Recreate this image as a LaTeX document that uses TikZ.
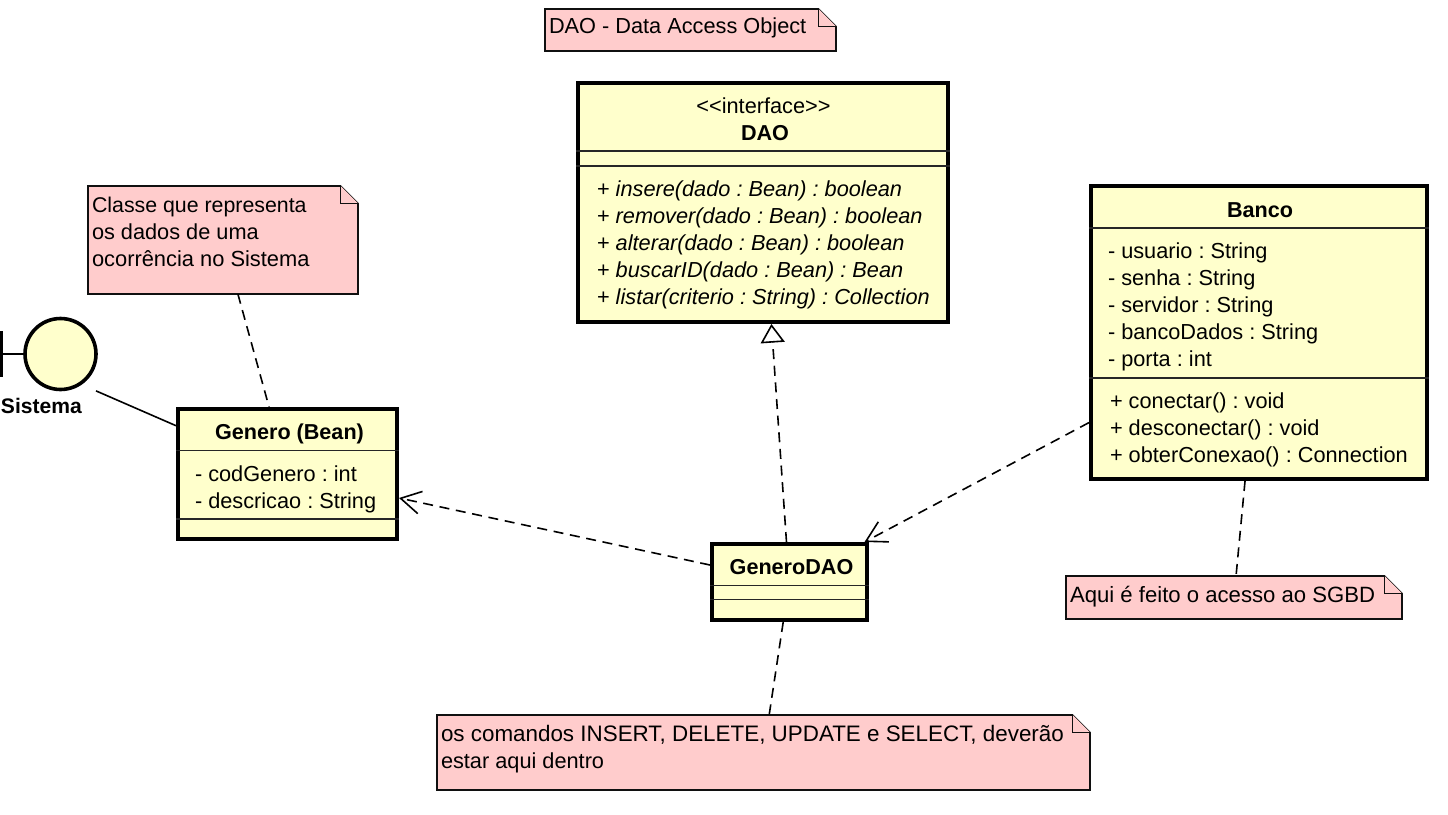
\documentclass[tikz,border=0pt]{standalone}
\usepackage{fontspec}
\setmainfont{Liberation Sans}
\usetikzlibrary{arrows.meta,calc}
\definecolor{classfill}{HTML}{FFFFCC}
\definecolor{notefill}{HTML}{FFCCCC}
\definecolor{noteline}{HTML}{101010}
\newcommand{\classbox}[5]{\node[classnode,minimum width={(#4-#2)*0.75pt},minimum height={(#5-#3)*0.75pt}] (#1) at ({(#2+#4)/2},{(#3+#5)/2}) {};}
\newcommand{\notebox}[5]{%
  \node[notenode,minimum width={(#4-#2)*0.75pt},minimum height={(#5-#3)*0.75pt}] (#1) at ({(#2+#4)/2},{(#3+#5)/2}) {};
  \draw[notepath] (#1.north west) -- ($(#1.north east)+(-17.5,0)$) -- ($(#1.north east)+(0,17.5)$) -- (#1.south east) -- (#1.south west) -- cycle;
  \draw[notepath] ($(#1.north east)+(-17.5,0)$) -- ($(#1.north east)+(-17.5,17.5)$) -- ($(#1.north east)+(0,17.5)$);}
\tikzset{
  x=0.75pt,y=-0.75pt,
  every node/.append style={execute at begin node=\frenchspacing},
  classnode/.style={draw=black,fill=classfill,line width=3pt,inner sep=0pt},
  notenode/.style={inner sep=0pt,outer sep=0pt},
  notepath/.style={draw=noteline,fill=notefill,line width=1.2pt,line join=miter},
  sep/.style={draw=black!85,line width=1.2pt},
  txt/.style={anchor=base west,inner sep=0pt,outer sep=0pt,font=\fontsize{16.3pt}{19pt}\selectfont},
  ttl/.style={anchor=base,inner sep=0pt,outer sep=0pt,font=\fontsize{16.2pt}{19pt}\selectfont\bfseries},
  ctr/.style={anchor=base,inner sep=0pt,outer sep=0pt,font=\fontsize{16.3pt}{19pt}\selectfont},
  ital/.style={txt,font=\fontsize{16.3pt}{19pt}\selectfont\itshape},
  link/.style={draw=black,line width=1.2pt},
  dash link/.style={link,dash pattern=on 7.5pt off 5pt},
  dep/.style={dash link,-{Straight Barb[length=15pt,width=17pt,line width=1.2pt]}},
  real/.style={dash link,-{Triangle[open,fill=white,length=14pt,width=18pt,line width=1.2pt]}},
}
\begin{document}
\begin{tikzpicture}
\useasboundingbox[fill=white] (0,0) rectangle (1448,814);
% classes
\classbox{dao}{578}{83}{948}{322}
\classbox{genero}{178}{409}{397}{539}
\classbox{generodao}{712}{544}{866.5}{620}
\classbox{banco}{1091}{186}{1427}{479}
% notes
\notebox{notedao}{545}{9}{836}{51}
\notebox{notebean}{88}{186}{358}{294}
\notebox{notebanco}{1066}{576}{1402}{619}
\notebox{notesql}{437}{715}{1090}{790}
% boundary actor
\node[circle,draw=black,fill=classfill,line width=2.7pt,minimum size=53.25pt,inner sep=0pt] (circ) at (60.5,354) {};
\coordinate (bar) at (1.5,354);
\draw[black,line width=2pt] (bar) -- (circ.west);
\draw[black,line width=2.7pt] (1.5,331) -- (1.5,377);
\node[minimum width=72pt,minimum height=75pt,inner sep=0pt,outer sep=0pt] (sistema) at (48,370) {};
\node[ttl,anchor=base west,font=\fontsize{15.8pt}{19pt}\selectfont\bfseries] (sistemal) at (1,413) {Sistema};
% compartment lines
\draw[sep] (dao.west |- 0,151) -- (dao.east |- 0,151);
\draw[sep] (dao.west |- 0,166) -- (dao.east |- 0,166);
\draw[sep] (genero.west |- 0,450.5) -- (genero.east |- 0,450.5);
\draw[sep] (genero.west |- 0,519) -- (genero.east |- 0,519);
\draw[sep] (generodao.west |- 0,585.5) -- (generodao.east |- 0,585.5);
\draw[sep] (generodao.west |- 0,599.5) -- (generodao.east |- 0,599.5);
\draw[sep] (banco.west |- 0,228) -- (banco.east |- 0,228);
\draw[sep] (banco.west |- 0,378) -- (banco.east |- 0,378);
% connectors
\draw[link] (sistema) -- (genero);
\draw[dash link] (notebean) -- (genero);
\draw[dep] (generodao) -- (genero);
\draw[dep] (banco) -- (generodao);
\draw[real] (generodao) -- (dao);
\draw[dash link] (banco) -- (notebanco);
\draw[dash link] (generodao) -- (notesql);
% DAO text
\node[ctr] (t1) at (763.5,113) {{<}{<}interface{>}{>}};
\node[ttl] (t2) at (765,140.5) {DAO};
\node[ital] (t3) at (597,196) {\upshape+\itshape{} insere(dado : Bean) : boolean};
\node[ital] (t4) at (597,223) {\upshape+\itshape{} remover(dado : Bean) : boolean};
\node[ital] (t5) at (597,250) {\upshape+\itshape{} alterar(dado : Bean) : boolean};
\node[ital] (t6) at (597,277) {\upshape+\itshape{} buscarID(dado : Bean) : Bean};
\node[ital] (t7) at (597,304) {\upshape+\itshape{} listar(criterio : String) : Collection};
% Banco text
\node[ttl] (b0) at (1260,217) {Banco};
\node[txt] (b1) at (1108,258) {- usuario : String};
\node[txt] (b2) at (1108,285) {- senha : String};
\node[txt] (b3) at (1108,312) {- servidor : String};
\node[txt] (b4) at (1108,339) {- bancoDados : String};
\node[txt] (b5) at (1108,366) {- porta : int};
\node[txt] (b6) at (1110,408) {+ conectar() : void};
\node[txt] (b7) at (1110,435) {+ desconectar() : void};
\node[txt] (b8) at (1110,462) {+ obterConexao() : Connection};
% Genero text
\node[ttl] (g0) at (289.5,439) {Genero (Bean)};
\node[txt] (g1) at (195,481.5) {- codGenero : int};
\node[txt] (g2) at (195,508.5) {- descricao : String};
% GeneroDAO text
\node[ttl] (d0) at (791.5,574) {GeneroDAO};
% note text
\node[txt] (n1) at (549,33.5) {DAO - Data Access Object};
\node[txt,font=\fontsize{16pt}{19pt}\selectfont] (n2) at (92,212) {Classe que representa};
\node[txt] (n3) at (92,239) {os dados de uma};
\node[txt,font=\fontsize{16.4pt}{19pt}\selectfont] (n4) at (92,266) {ocorrência no Sistema};
\node[txt,font=\fontsize{16.6pt}{19pt}\selectfont] (n5) at (1070,602) {Aqui é feito o acesso ao SGBD};
\node[txt,font=\fontsize{16.8pt}{19pt}\selectfont] (n6) at (441,741) {os comandos INSERT, DELETE, UPDATE e SELECT, deverão};
\node[txt] (n7) at (441,768) {estar aqui dentro};
\end{tikzpicture}
\end{document}
